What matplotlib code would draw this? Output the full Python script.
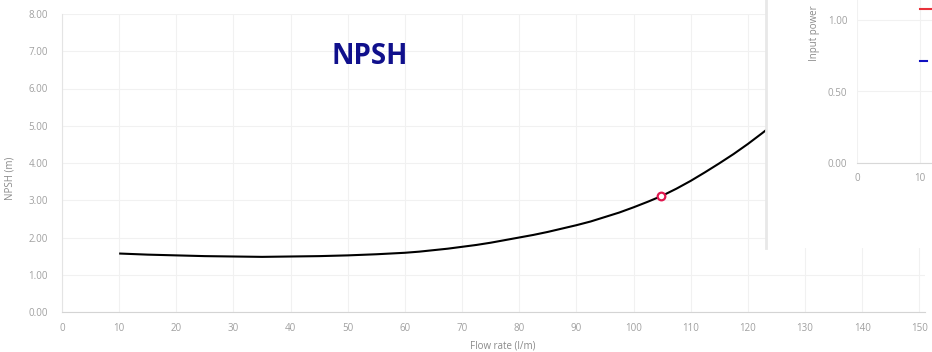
import matplotlib
matplotlib.use("Agg")
import matplotlib.pyplot as plt

plt.rcParams['font.family'] = ['Open Sans', 'DejaVu Sans']

# Data
flow = [10, 15, 20, 25, 30, 35, 40, 45, 50, 52.5, 55, 57.5, 60, 62.5, 65,
        67.5, 70, 72.5, 75, 77.5, 80, 82.5, 85, 87.5, 90, 92.5, 95, 97.5,
        100, 102.5, 105, 107.5, 110, 112.5, 115, 117.5, 120, 122.5, 125]
npsh = [1.57, 1.54, 1.52, 1.50, 1.49, 1.48, 1.49, 1.50, 1.52, 1.535, 1.55,
        1.57, 1.59, 1.62, 1.66, 1.70, 1.75, 1.80, 1.86, 1.93, 2.00, 2.07,
        2.15, 2.24, 2.33, 2.43, 2.55, 2.67, 2.81, 2.96, 3.12, 3.31, 3.52,
        3.75, 3.99, 4.24, 4.51, 4.80, 5.10]
duty_flow = [104.8]
duty_npsh = [3.12]
x_ticks = [0, 10, 20, 30, 40, 50, 60, 70, 80, 90, 100, 110, 120, 130, 140, 150]
y_ticks = [0, 1, 2, 3, 4, 5, 6, 7, 8]
y_tick_labels = ["0.00", "1.00", "2.00", "3.00", "4.00", "5.00", "6.00", "7.00", "8.00"]

inset_x_ticks = [0, 10]
inset_y_ticks = [0, 0.5, 1.0]
inset_y_tick_labels = ["0.00", "0.50", "1.00"]
red_x = [10, 12]
red_y = [1.08, 1.08]
blue_x = [10, 11.1]
blue_y = [0.71, 0.71]

W, H = 932, 352
fig = plt.figure(figsize=(W / 100, H / 100), dpi=100)
fig.patch.set_facecolor('white')

tick_col = '#a0a0a0'
grid_col = '#f1f1f1'

# Main axes
left_px, right_px = 62, 925
ax = fig.add_axes([left_px / W, (H - 312) / H, (right_px - left_px) / W, (312 - 14) / H])
ax.plot(flow, npsh, color='black', lw=1.5, zorder=3, solid_capstyle='butt',
        solid_joinstyle='round')
ax.plot(duty_flow, duty_npsh, 'o', mfc='white', mec='#e0174f', mew=1.6, ms=5.5, zorder=4)
ax.set_xlim(0, 151)
ax.set_ylim(0, 8)
ax.set_xticks(x_ticks)
ax.set_xticklabels([str(t) for t in x_ticks])
ax.set_yticks(y_ticks)
ax.set_yticklabels(y_tick_labels)
ax.grid(True, color=grid_col, lw=0.8, zorder=0)
for s in ['top', 'right']:
    ax.spines[s].set_visible(False)
ax.spines['left'].set_color('#e4e4e4')
ax.spines['bottom'].set_color('#d4d4d4')
ax.tick_params(axis='both', length=0, labelsize=7, labelcolor=tick_col)
ax.tick_params(axis='x', pad=8)
ax.tick_params(axis='y', pad=10)
ax.set_xlabel('Flow rate (l/m)', fontsize=7, color='#8a8a8a')
ax.set_ylabel('NPSH (m)', fontsize=7, color='#8a8a8a')
ax.xaxis.set_label_coords((503 - left_px) / (right_px - left_px), -0.095)
ax.yaxis.set_label_coords(-0.054, 0.45)

fig.text(370 / W, 1 - 57 / H, 'NPSH', fontsize=20, fontweight='bold',
         color='#10108c', ha='center', va='center')

# Overlapping panel (white card with left border)
panel = fig.add_axes([766 / W, (H - 248) / H, (W - 766) / W, 248 / H])
panel.set_facecolor('white')
panel.set_xticks([])
panel.set_yticks([])
for s in ['top', 'right', 'bottom']:
    panel.spines[s].set_visible(False)
panel.spines['left'].set_color('#e8e8e8')
panel.spines['left'].set_linewidth(2)
panel.set_zorder(5)

# Inset axes
px_per_x = 6.3
px_per_y = 143
ix0, iy0 = 857, 163
ytop = 1.15
xmax = (W - ix0) / px_per_x
inset = fig.add_axes([ix0 / W, (H - iy0) / H, (W - ix0) / W, ytop * px_per_y / H])
inset.set_zorder(6)
inset.patch.set_alpha(0)
inset.plot(red_x, red_y, color='#e8313a', lw=1.5, clip_on=False)
inset.plot(blue_x, blue_y, color='#1010c0', lw=1.5)
inset.set_xlim(0, xmax)
inset.set_ylim(0, ytop)
inset.set_xticks(inset_x_ticks)
inset.set_xticklabels([str(t) for t in inset_x_ticks])
inset.set_yticks(inset_y_ticks)
inset.set_yticklabels(inset_y_tick_labels)
inset.grid(True, color=grid_col, lw=0.8)
for s in ['top', 'right']:
    inset.spines[s].set_visible(False)
inset.spines['left'].set_visible(False)
inset.spines['bottom'].set_color('#d8d8d8')
inset.tick_params(axis='both', length=0, labelsize=7, labelcolor=tick_col)
inset.tick_params(axis='x', pad=7)
inset.tick_params(axis='y', pad=7)
fig.text(815 / W, 1 - 33 / H, 'Input power', fontsize=7, color='#8a8a8a',
         rotation=90, ha='center', va='center', zorder=7)

fig.savefig('out.png', dpi=100, facecolor='white')
